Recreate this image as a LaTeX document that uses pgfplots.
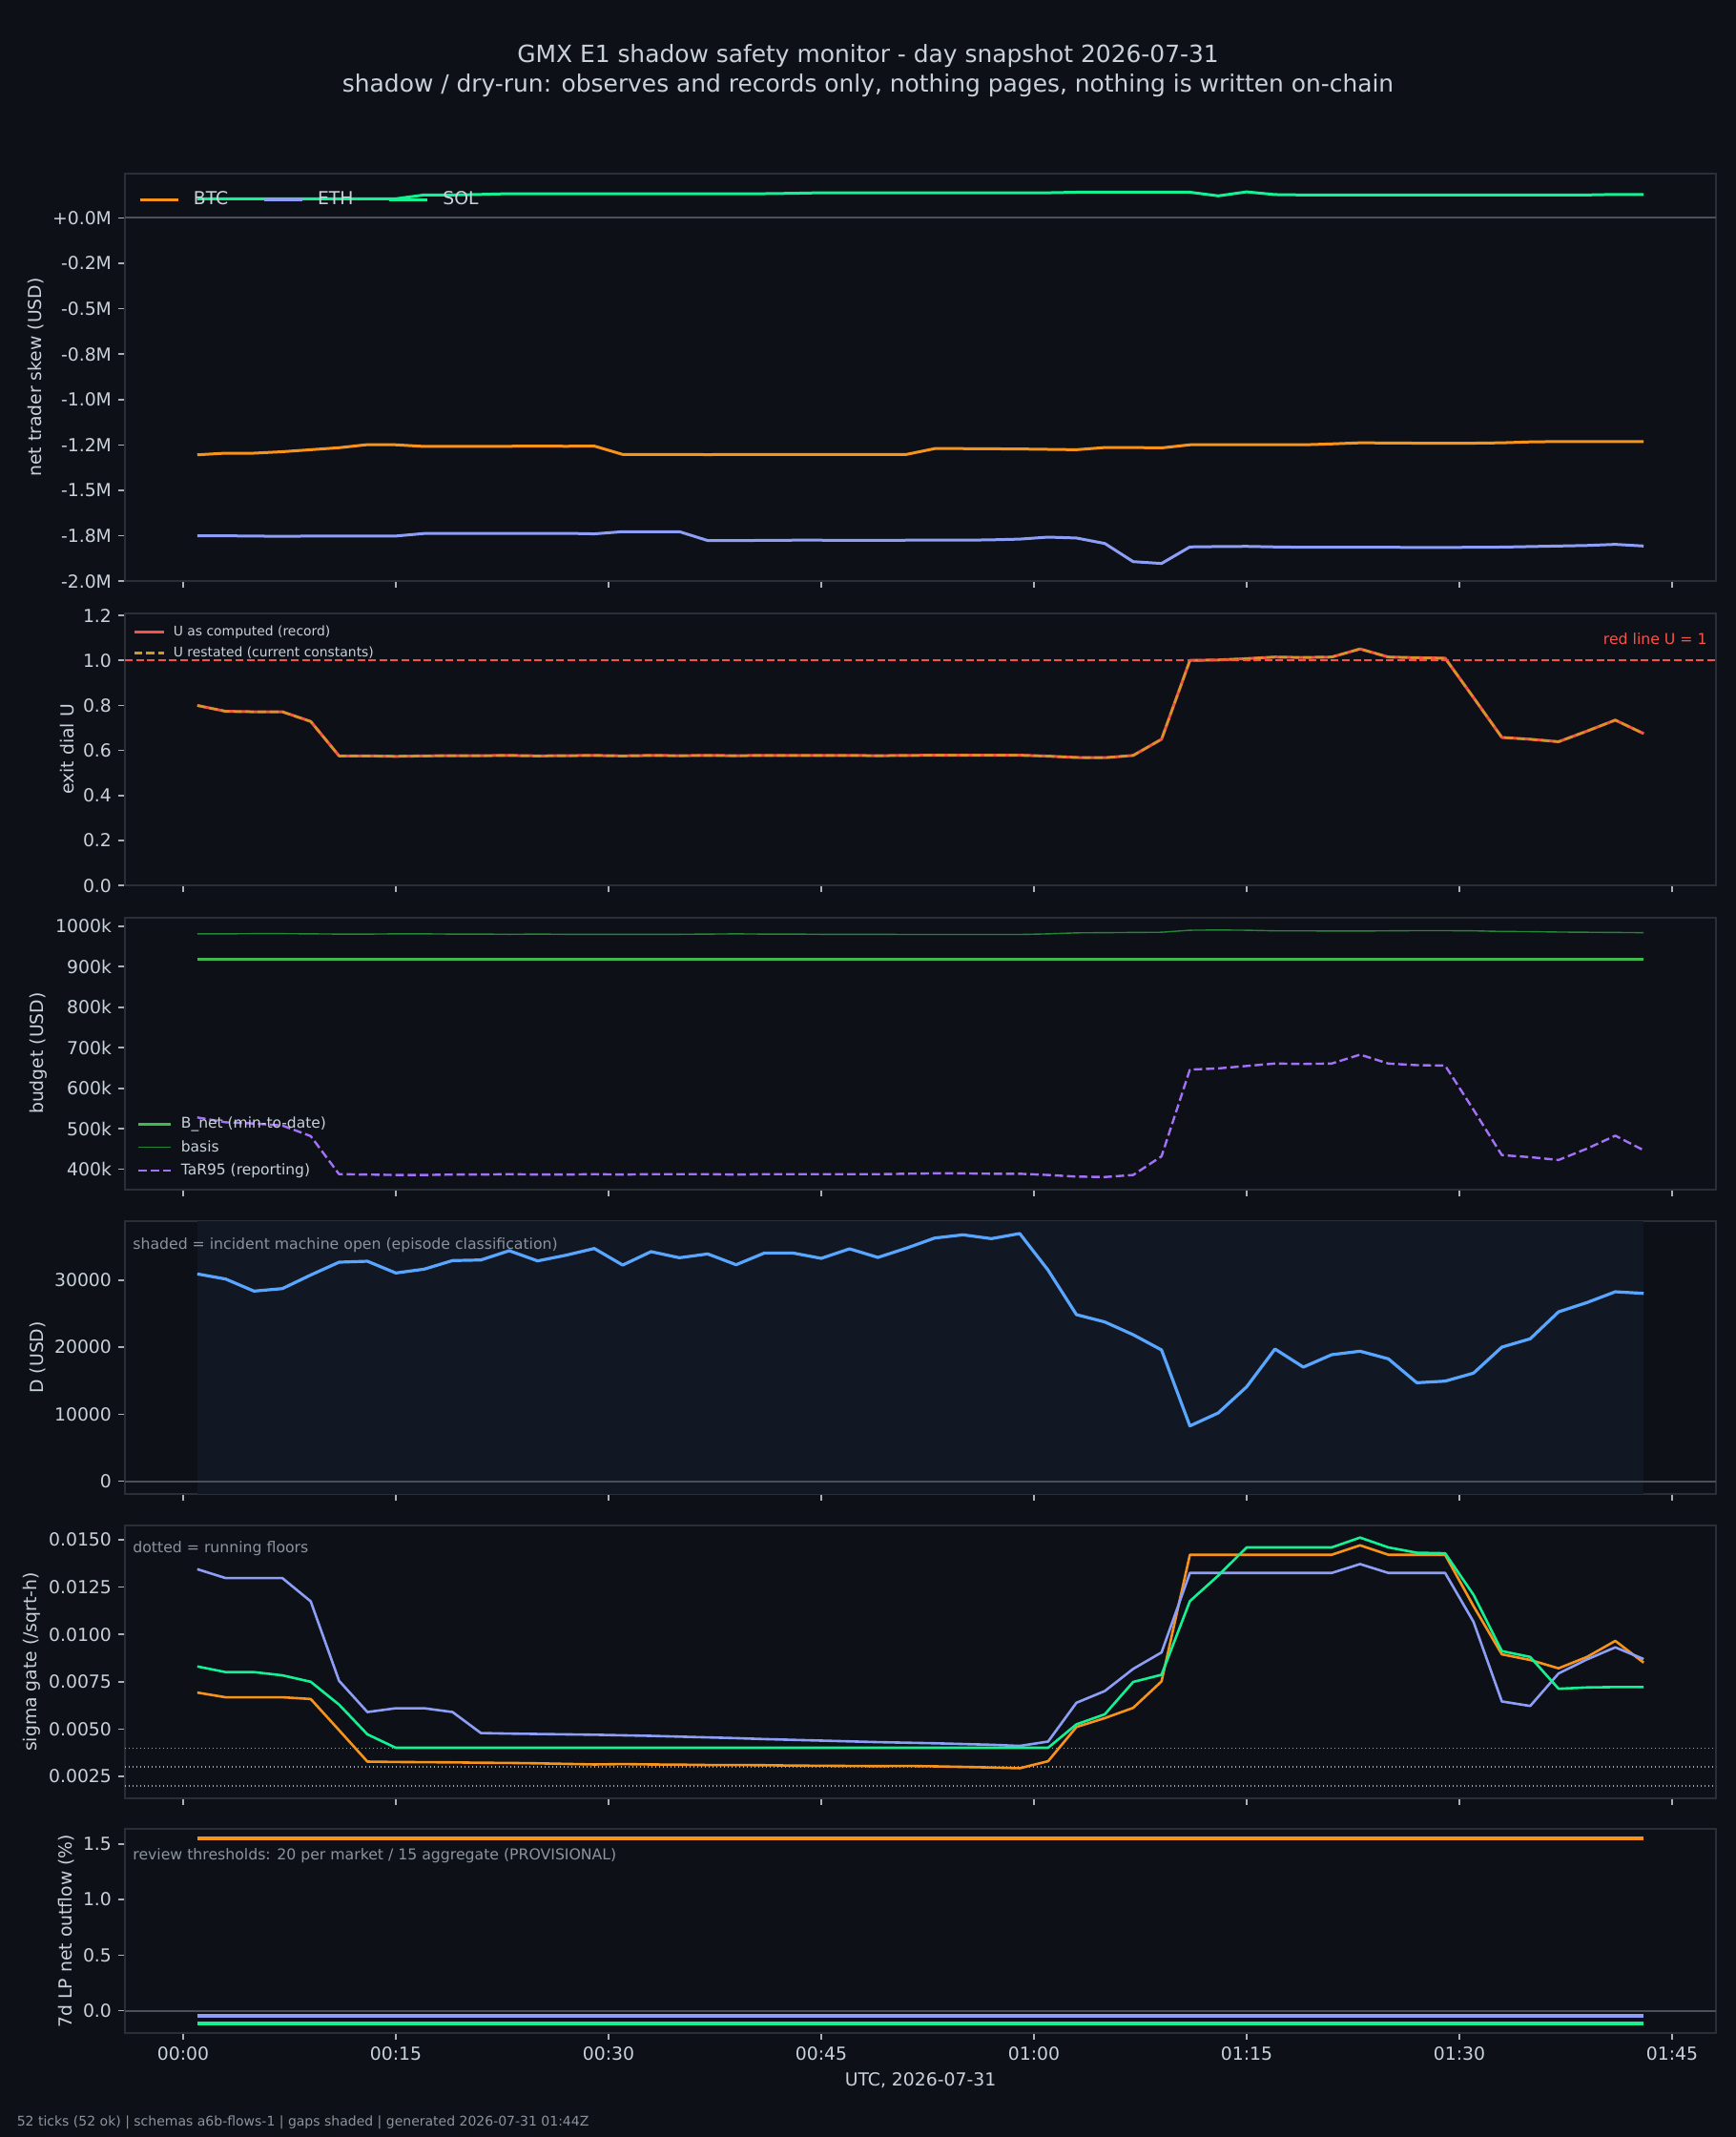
\documentclass[border=0pt]{standalone}
\usepackage{fontspec}
\setmainfont{DejaVu Sans}
\usepackage{pgfplots}
\usepackage{pgfplotstable}
\pgfplotsset{compat=1.18}

\definecolor{bg}{HTML}{0D1117}
\definecolor{txt}{HTML}{C9D1D9}
\definecolor{muted}{HTML}{8B949E}
\definecolor{spine}{HTML}{2A2F37}
\definecolor{tickc}{HTML}{A9B1BA}
\definecolor{zeroc}{HTML}{4A5059}
\definecolor{btcc}{HTML}{F7931A}
\definecolor{ethc}{HTML}{8C9EF5}
\definecolor{solc}{HTML}{14F195}
\definecolor{ured}{HTML}{F85149}
\definecolor{ugold}{HTML}{D29922}
\definecolor{bnetc}{HTML}{3FB950}
\definecolor{basisc}{HTML}{238636}
\definecolor{tarc}{HTML}{A371F7}
\definecolor{dblue}{HTML}{58A6FF}
\colorlet{shadec}{dblue!5!bg}

\newcommand\tickfont{\fontsize{9.4}{11}\selectfont}
\newcommand\annfont{\fontsize{7.85}{9.5}\selectfont}

\pgfplotstableread{
m btc eth sol
1 -1.304 -1.750 0.105
3 -1.295 -1.750 0.105
5 -1.295 -1.751 0.105
7 -1.287 -1.753 0.105
9 -1.276 -1.751 0.105
11 -1.265 -1.751 0.105
13 -1.248 -1.751 0.105
15 -1.249 -1.751 0.105
17 -1.258 -1.737 0.126
19 -1.258 -1.736 0.126
21 -1.258 -1.736 0.129
23 -1.257 -1.736 0.133
25 -1.256 -1.736 0.133
27 -1.257 -1.736 0.133
29 -1.256 -1.739 0.133
31 -1.302 -1.727 0.133
33 -1.302 -1.727 0.133
35 -1.302 -1.727 0.133
37 -1.303 -1.776 0.133
39 -1.302 -1.776 0.133
41 -1.302 -1.775 0.133
43 -1.302 -1.774 0.135
45 -1.302 -1.774 0.138
47 -1.302 -1.775 0.138
49 -1.302 -1.775 0.138
51 -1.302 -1.774 0.138
53 -1.270 -1.774 0.138
55 -1.270 -1.774 0.138
57 -1.271 -1.772 0.138
59 -1.272 -1.768 0.138
61 -1.274 -1.757 0.138
63 -1.276 -1.762 0.141
65 -1.264 -1.792 0.141
67 -1.264 -1.892 0.141
69 -1.266 -1.902 0.142
71 -1.249 -1.811 0.141
73 -1.249 -1.809 0.121
75 -1.249 -1.808 0.143
77 -1.248 -1.811 0.128
79 -1.249 -1.813 0.126
81 -1.244 -1.813 0.126
83 -1.238 -1.813 0.126
85 -1.239 -1.813 0.126
87 -1.240 -1.814 0.126
89 -1.240 -1.814 0.126
91 -1.240 -1.813 0.126
93 -1.238 -1.812 0.126
95 -1.233 -1.809 0.126
97 -1.231 -1.806 0.126
99 -1.231 -1.803 0.126
101 -1.231 -1.797 0.129
103 -1.231 -1.806 0.129
}\skewtab

\pgfplotstableread{
m u
1 0.800
3 0.774
5 0.772
7 0.772
9 0.729
11 0.576
13 0.576
15 0.574
17 0.576
19 0.577
21 0.577
23 0.578
25 0.576
27 0.577
29 0.578
31 0.576
33 0.578
35 0.577
37 0.578
39 0.577
41 0.578
43 0.578
45 0.578
47 0.578
49 0.577
51 0.578
53 0.579
55 0.579
57 0.579
59 0.579
61 0.575
63 0.569
65 0.568
67 0.578
69 0.650
71 1.000
73 1.002
75 1.008
77 1.015
79 1.013
81 1.015
83 1.051
85 1.015
87 1.012
89 1.010
91 0.835
93 0.658
95 0.650
97 0.639
99 0.686
101 0.735
103 0.675
}\utab

\pgfplotstableread{
m bnet basis tar
1 919 981 528
3 919 981 516
5 919 981.5 513
7 919 981.5 508
9 919 981 482
11 919 980.5 388
13 919 980.5 387
15 919 981 386
17 919 981 386
19 919 980.5 387
21 919 980.5 387
23 919 980 388
25 919 980.5 387
27 919 980 387
29 919 980 388
31 919 980 387
33 919 980 388
35 919 980 388
37 919 980.5 388
39 919 981 387
41 919 980.5 388
43 919 980.5 388
45 919 980 388
47 919 980 388
49 919 980 388
51 919 979.5 389
53 919 979.5 390
55 919 979.5 390
57 919 979.5 389
59 919 979.5 389
61 919 981 386
63 919 983.5 382
65 919 984 381
67 919 984.5 386
69 919 985 432
71 919 990 646
73 919 990.5 649
75 919 990 655
77 919 988.5 661
79 919 988.5 660
81 919 988 661
83 919 988 683
85 919 988.5 661
87 919 989 657
89 919 989 656
91 919 988.5 547
93 919 987 435
95 919 986.5 430
97 919 985.5 423
99 919 985 451
101 919 984.5 483
103 919 984 447
}\budgettab

\pgfplotstableread{
m d
1 30910
3 30150
5 28350
7 28720
9 30750
11 32660
13 32800
15 31050
17 31620
19 32900
21 32990
23 34370
25 32850
27 33700
29 34700
31 32230
33 34230
35 33320
37 33890
39 32280
41 34030
43 34030
45 33230
47 34650
49 33370
51 34740
53 36260
55 36740
57 36170
59 36930
61 31470
63 24840
65 23750
67 21850
69 19580
71 8250
73 10190
75 14080
77 19720
79 17020
81 18870
83 19390
85 18250
87 14690
89 14930
91 16120
93 20000
95 21240
97 25260
99 26640
101 28250
103 28010
}\dtab

\pgfplotstableread{
m btc eth sol
1 0.00693 0.01345 0.00831
3 0.00668 0.01298 0.00801
5 0.00668 0.01298 0.00801
7 0.00668 0.01298 0.00784
9 0.00659 0.01175 0.00750
11 0.00494 0.00755 0.00629
13 0.00328 0.00590 0.00472
15 0.00326 0.00610 0.00401
17 0.00325 0.00610 0.00401
19 0.00324 0.00590 0.00401
21 0.00322 0.00479 0.00401
23 0.00321 0.00476 0.00401
25 0.00319 0.00474 0.00401
27 0.00316 0.00472 0.00401
29 0.00313 0.00470 0.00401
31 0.00315 0.00467 0.00401
33 0.00313 0.00464 0.00401
35 0.00312 0.00460 0.00401
37 0.00310 0.00456 0.00401
39 0.00310 0.00452 0.00401
41 0.00309 0.00447 0.00401
43 0.00307 0.00443 0.00401
45 0.00306 0.00439 0.00401
47 0.00305 0.00435 0.00401
49 0.00304 0.00431 0.00401
51 0.00305 0.00428 0.00401
53 0.00303 0.00425 0.00401
55 0.00300 0.00421 0.00401
57 0.00297 0.00417 0.00401
59 0.00293 0.00411 0.00401
61 0.00330 0.00434 0.00401
63 0.00511 0.00639 0.00525
65 0.00558 0.00701 0.00578
67 0.00612 0.00818 0.00749
69 0.00752 0.00905 0.00787
71 0.01421 0.01325 0.01176
73 0.01421 0.01325 0.01311
75 0.01421 0.01325 0.01460
77 0.01421 0.01325 0.01460
79 0.01421 0.01325 0.01460
81 0.01421 0.01325 0.01460
83 0.01471 0.01372 0.01512
85 0.01421 0.01325 0.01460
87 0.01421 0.01325 0.01432
89 0.01421 0.01325 0.01429
91 0.01150 0.01067 0.01210
93 0.00895 0.00646 0.00912
95 0.00865 0.00622 0.00881
97 0.00821 0.00794 0.00713
99 0.00881 0.00868 0.00720
101 0.00966 0.00932 0.00722
103 0.00851 0.00870 0.00722
}\sigtab

\pgfplotsset{
  panel/.style={
    scale only axis, width=834pt,
    anchor=north west,
    xmin=-4.1, xmax=108.1,
    axis background/.style={fill=bg},
    axis line style={draw=spine, line width=1pt},
    tick align=outside, xtick pos=left, ytick pos=left,
    major tick length=3.5pt,
    tick style={draw=tickc, line width=0.8pt},
    xtick={0,15,30,45,60,75,90,105},
    xticklabels={},
    scaled y ticks=false,
    tick label style={font=\tickfont, text=txt},
    label style={font=\tickfont, text=txt},
    ylabel shift=-2.3pt,
    legend cell align=left,
    every axis plot post/.append style={line join=round},
  },
}

\begin{document}
\begin{tikzpicture}
\fill[bg] (0,0) rectangle (910pt,1120pt);
\path[use as bounding box] (0,0) rectangle (910pt,1120pt);

% ---------- panel 1: net trader skew
\begin{axis}[panel, at={(65.5pt,1029.15pt)}, height=213.8pt,
  ymin=-2.0, ymax=0.245,
  ytick={-2,-1.75,-1.5,-1.25,-1,-0.75,-0.5,-0.25,0},
  yticklabels={-2.0M,-1.8M,-1.5M,-1.2M,-1.0M,-0.8M,-0.5M,-0.2M,+0.0M},
  ylabel={net trader skew (USD)},
  legend columns=3,
  legend style={draw=none, fill=none, at={(0,1)}, anchor=north west,
    xshift=3.85pt, yshift=-5.3pt, font=\tickfont, text=txt,
    /tikz/every odd column/.append style={column sep=5.4pt},
    /tikz/every even column/.append style={column sep=16pt}},
  legend image code/.code={\draw[#1] (0pt,0pt) -- (20pt,0pt);},
]
\addplot[zeroc, line width=1pt, forget plot] coordinates {(-4.1,0) (108.1,0)};
\addplot[btcc, line width=1.5pt] table[x=m,y=btc] {\skewtab};
\addlegendentry{BTC}
\addplot[ethc, line width=1.5pt] table[x=m,y=eth] {\skewtab};
\addlegendentry{ETH}
\addplot[solc, line width=1.5pt] table[x=m,y=sol] {\skewtab};
\addlegendentry{SOL}
\end{axis}

% ---------- panel 2: exit dial U
\begin{axis}[panel, at={(65.5pt,798.65pt)}, height=142.8pt,
  ymin=0, ymax=1.21,
  ytick={0,0.2,0.4,0.6,0.8,1.0,1.2},
  yticklabels={0.0,0.2,0.4,0.6,0.8,1.0,1.2},
  ylabel={exit dial U},
  legend style={draw=none, fill=none, at={(0,1)}, anchor=north west,
    xshift=0.8pt, yshift=-2.34pt, font=\fontsize{6.95}{8}\selectfont, text=txt,
    row sep=0.2pt,
    /tikz/every odd column/.append style={column sep=2.4pt}},
  legend image code/.code={\draw[#1] (0pt,0pt) -- (15.5pt,0pt);},
]
\addplot[ured, line width=1.5pt] table[x=m,y=u] {\utab};
\addlegendentry{U as computed (record)}
\addplot[ugold, line width=1.2pt, dash pattern=on 4.4pt off 2pt] table[x=m,y=u] {\utab};
\addlegendentry{U restated (current constants)}
\addplot[ured, line width=1.1pt, dash pattern=on 4pt off 1.8pt, forget plot] coordinates {(-4.1,1) (108.1,1)};
\end{axis}

% ---------- panel 3: budget
\begin{axis}[panel, at={(65.5pt,639.15pt)}, height=142.5pt,
  ymin=350.5, ymax=1021.5,
  ytick={400,500,600,700,800,900,1000},
  yticklabels={400k,500k,600k,700k,800k,900k,1000k},
  ylabel={budget (USD)},
  legend style={draw=none, fill=none, at={(0,0)}, anchor=south west,
    xshift=3pt, yshift=2.1pt, font=\fontsize{7.75}{9}\selectfont, text=txt,
    row sep=0.65pt,
    /tikz/every odd column/.append style={column sep=2.8pt}},
  legend image code/.code={\draw[#1] (0pt,0pt) -- (16.75pt,0pt);},
]
\addplot[bnetc, line width=1.7pt] table[x=m,y=bnet] {\budgettab};
\addlegendentry{B\_net (min-to-date)}
\addplot[basisc, line width=0.7pt] table[x=m,y=basis] {\budgettab};
\addlegendentry{basis}
\addplot[tarc, line width=1.2pt, dash pattern=on 4.4pt off 2pt] table[x=m,y=tar] {\budgettab};
\addlegendentry{TaR95 (reporting)}
\end{axis}

% ---------- panel 4: D
\begin{axis}[panel, at={(65.5pt,480pt)}, height=142.85pt,
  ymin=-1850, ymax=38780,
  ytick={0,10000,20000,30000},
  yticklabels={0,10000,20000,30000},
  ylabel={D (USD)},
]
\addplot[fill=shadec, draw=none, forget plot] coordinates {(1,-1850) (1,38780) (103,38780) (103,-1850)} -- cycle;
\addplot[zeroc, line width=1pt, forget plot] coordinates {(-4.1,0) (108.1,0)};
\addplot[dblue, line width=1.6pt] table[x=m,y=d] {\dtab};
\end{axis}

% ---------- panel 5: sigma gate
\begin{axis}[panel, at={(65.5pt,320.5pt)}, height=143pt,
  ymin=0.00134, ymax=0.01576,
  ytick={0.0025,0.005,0.0075,0.01,0.0125,0.015},
  yticklabels={0.0025,0.0050,0.0075,0.0100,0.0125,0.0150},
  ylabel={sigma gate (/sqrt-h)},
]
\addplot[solc, line width=0.7pt, dash pattern=on 0.7pt off 1.3pt] coordinates {(-4.1,0.004) (108.1,0.004)};
\addplot[ethc, line width=0.7pt, dash pattern=on 0.7pt off 1.3pt] coordinates {(-4.1,0.003) (108.1,0.003)};
\addplot[btcc, line width=0.7pt, dash pattern=on 0.7pt off 1.3pt] coordinates {(-4.1,0.002) (108.1,0.002)};
\addplot[btcc, line width=1.3pt] table[x=m,y=btc] {\sigtab};
\addplot[ethc, line width=1.3pt] table[x=m,y=eth] {\sigtab};
\addplot[solc, line width=1.3pt] table[x=m,y=sol] {\sigtab};
\end{axis}

% ---------- panel 6: LP outflow
\begin{axis}[panel, at={(65.5pt,161.35pt)}, height=106.85pt,
  ymin=-0.2, ymax=1.633,
  ytick={0,0.5,1,1.5},
  yticklabels={0.0,0.5,1.0,1.5},
  xticklabels={00:00,00:15,00:30,00:45,01:00,01:15,01:30,01:45},
  xlabel={UTC, 2026-07-31},
  ylabel={7d LP net outflow (\%)},
]
\addplot[zeroc, line width=1pt] coordinates {(-4.1,0) (108.1,0)};
\addplot[btcc, line width=2pt] coordinates {(1,1.551) (103,1.551)};
\addplot[ethc, line width=2pt] coordinates {(1,-0.046) (103,-0.046)};
\addplot[solc, line width=2pt] coordinates {(1,-0.115) (103,-0.115)};
\end{axis}

% ---------- texts
\node[anchor=base, font=\fontsize{12.45}{14}\selectfont, text=txt, inner sep=0pt] at (455pt,1087.25pt) {GMX E1 shadow safety monitor - day snapshot 2026-07-31};
\node[anchor=base, font=\fontsize{12.45}{14}\selectfont, text=txt, inner sep=0pt] at (455pt,1071.75pt) {shadow / dry-run: observes and records only, nothing pages, nothing is written on-chain};
\node[anchor=base east, font=\annfont, text=ured, inner sep=0pt] at (895pt,782.15pt) {red line U = 1};
\node[anchor=base west, font=\annfont, text=muted, inner sep=0pt] at (69.5pt,465.35pt) {shaded = incident machine open (episode classification)};
\node[anchor=base west, font=\annfont, text=muted, inner sep=0pt] at (69.5pt,306.35pt) {dotted = running floors};
\node[anchor=base west, font=\annfont, text=muted, inner sep=0pt] at (69.5pt,145pt) {review thresholds: 20 per market / 15 aggregate (PROVISIONAL)};
\node[anchor=base west, font=\fontsize{7.0}{8.5}\selectfont, text=muted, inner sep=0pt] at (8.7pt,5.75pt) {52 ticks (52 ok) | schemas a6b-flows-1 | gaps shaded | generated 2026-07-31 01:44Z};
\end{tikzpicture}
\end{document}
